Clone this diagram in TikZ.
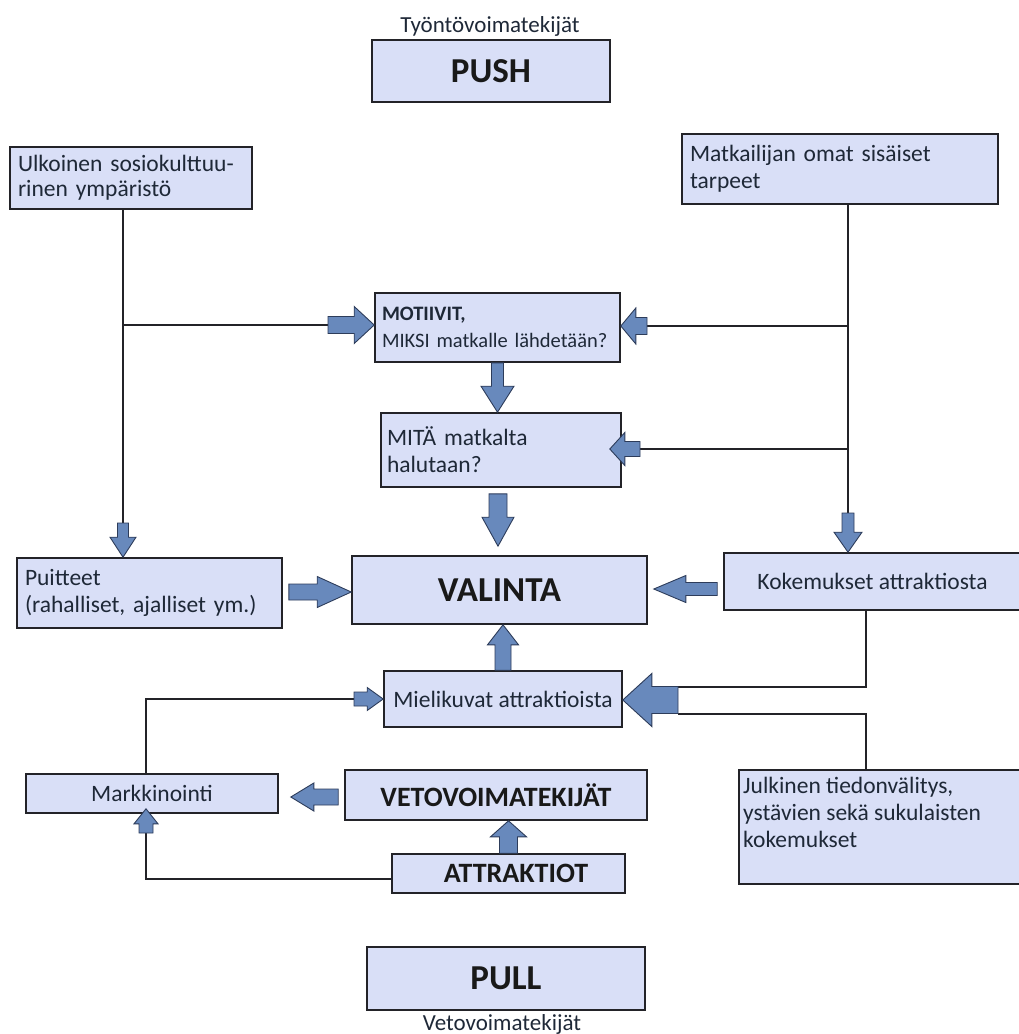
\documentclass[tikz,border=0pt]{standalone}
\usepackage{fontspec}
\setmainfont{Carlito}
\usetikzlibrary{calc}
\definecolor{boxfill}{RGB}{217,223,247}
\definecolor{arrowfill}{RGB}{104,137,188}
\definecolor{arrowline}{RGB}{45,60,90}
\definecolor{txt}{RGB}{30,40,55}
\definecolor{linec}{RGB}{35,35,40}
% block arrow: #1 tail, #2 tip, #3 shaft half width, #4 head half width, #5 head length
\newcommand\blockarr[5]{%
  \coordinate (hb) at ($(#2)!#5!(#1)$);
  \filldraw[blockarrow] ($(#1)!#3!90:(#2)$) -- ($(hb)!#3!-90:(#1)$) -- ($(hb)!#4!-90:(#1)$) -- (#2)
     -- ($(hb)!#4!90:(#1)$) -- ($(hb)!#3!90:(#1)$) -- ($(#1)!#3!-90:(#2)$) -- cycle;}
\begin{document}
\begin{tikzpicture}[x=1pt,y=-1pt,
  box/.style={draw=linec, line width=1.6pt, fill=boxfill, inner xsep=8pt, inner ysep=0pt, text=txt},
  conn/.style={draw=linec, line width=1.6pt},
  blockarrow/.style={fill=arrowfill, draw=arrowline, line width=0.9pt, line join=miter},
  body/.style={font=\fontsize{23.5}{27}\selectfont},
  bigbold/.style={font=\fontsize{35}{40}\selectfont\bfseries, text=black!90},
  midbold/.style={font=\fontsize{28}{32}\selectfont\bfseries, text=black!90},
  lab/.style={font=\fontsize{23}{27}\selectfont, text=txt, inner sep=0pt}]
\useasboundingbox (0,0) rectangle (1019,1034);

% ---- boxes ----
\node[anchor=base, lab] (tlab) at (490,32) {Työntövoimatekijät};
\node[box, bigbold, minimum width=238pt, minimum height=62pt] (push) at (491,71) {PUSH};
\node[box, font=\fontsize{23.5}{25}\selectfont, minimum width=242pt, minimum height=62pt, text width=226pt, align=left] (ulk) at (131,178) {Ulkoinen sosiokulttuu-\\rinen ympäristö};
\node[box, body, minimum width=316pt, minimum height=70pt, text width=300pt, align=left] (matk) at (840,169) {Matkailijan omat sisäiset\\tarpeet};
\node[box, font=\fontsize{20.5}{27}\selectfont, inner xsep=7pt, minimum width=245pt, minimum height=69pt, text width=231pt, align=left] (mot) at (497.5,327.5) {\textbf{MOTIIVIT,}\\MIKSI matkalle lähdetään?};
\node[box, body, inner xsep=6pt, minimum width=240pt, minimum height=74pt, text width=228pt, align=left] (mita) at (501,450) {MITÄ matkalta\\halutaan?};
\node[box, bigbold, minimum width=295pt, minimum height=68pt] (val) at (499.5,590) {VALINTA};
\node[box, body, minimum width=265pt, minimum height=70pt, text width=249pt, align=left] (puit) at (149.5,593) {Puitteet\\(rahalliset, ajalliset ym.)};
\node[box, body, minimum width=297pt, minimum height=57pt] (kok) at (872.5,581.5) {Kokemukset attraktiosta};
\node[box, body, inner xsep=2pt, minimum width=238pt, minimum height=56pt] (mie) at (503,699) {Mielikuvat attraktioista};
\node[box, body, minimum width=252pt, minimum height=39pt] (mark) at (152,793.5) {Markkinointi};
\node[box, midbold, minimum width=302pt, minimum height=50pt] (veto) at (496,795) {VETOVOIMATEKIJÄT};
\node[box, midbold, minimum width=233pt, minimum height=39pt] (attr) at (508.5,873.5) {\hspace*{15pt}ATTRAKTIOT};
\node[box, minimum width=282pt, minimum height=114pt] (julk) at (880,827) {};
\node[anchor=north west, body, text=txt, inner sep=0pt, align=left] (julkt) at (743,777) {Julkinen tiedonvälitys,\\ystävien sekä sukulaisten\\kokemukset};
\node[box, bigbold, minimum width=278pt, minimum height=63pt] (pull) at (506,978.5) {PULL};
\node[anchor=base, lab] (blab) at (502,1030) {Vetovoimatekijät};

% ---- coordinates ----
\coordinate (j1) at (123,325);
\coordinate (j1b) at (123,523);
\coordinate (a1t) at (328,325);
\coordinate (a1h) at (mot.west |- j1);
\coordinate (p1h) at (puit.north -| j1);
\coordinate (j2) at (848,326);
\coordinate (j3) at (848,449);
\coordinate (j2b) at (848,513);
\coordinate (a2t) at (647,326);
\coordinate (a2h) at (mot.east |- j2);
\coordinate (a3t) at (640,449);
\coordinate (a3h) at ($(mita.east |- j3)+(-12,0)$);
\coordinate (k0h) at (kok.north -| j2);
\coordinate (a4h) at (mita.north -| mot.south);
\coordinate (a5t) at ($(mita.south)+(-3,6)$);
\coordinate (a5h) at ($(val.north)+(-1.5,-9)$);
\coordinate (a6t) at ($(puit.east)+(6,-1)$);
\coordinate (a6h) at (val.west |- a6t);
\coordinate (a7t) at ($(kok.west)+(-6,7.5)$);
\coordinate (a7h) at ($(val.east |- a7t)+(6,0)$);
\coordinate (a0h) at (val.south -| mie.north);
\coordinate (bt) at (678,700);
\coordinate (bh) at (mie.east |- bt);
\coordinate (k1) at (866,687);
\coordinate (k1e) at (678,687);
\coordinate (k2) at (866,714);
\coordinate (k2e) at (678,714);
\coordinate (m1) at (146,699);
\coordinate (m1e) at (354,699);
\coordinate (m1h) at (mie.west |- m1);
\coordinate (a8t) at ($(veto.west)+(-6,2)$);
\coordinate (a8h) at ($(mark.east |- a8t)+(12,0)$);
\coordinate (a9h) at (veto.south -| attr.north);
\coordinate (m2) at (146,879);
\coordinate (m2t) at (146,833);
\coordinate (m2h) at ($(mark.south -| m2)+(0,-5)$);

% ---- lines ----
\draw[conn] (ulk.south -| j1) -- (j1b);
\draw[conn] (j1) -- (a1t);
\draw[conn] (matk.south -| j2) -- (j2b);
\draw[conn] (j2) -- (a2t);
\draw[conn] (j3) -- (a3t);
\draw[conn] (kok.south -| k1) -- (k1) -- (k1e);
\draw[conn] (julk.north -| k2) -- (k2) -- (k2e);
\draw[conn] (mark.north -| m1) -- (m1) -- (m1e);
\draw[conn] (attr.west |- m2) -- (m2) -- (m2t);

% ---- block arrows ----
\blockarr{a1t}{a1h}{8.5pt}{18.5pt}{20pt}
\blockarr{j1b}{p1h}{5.5pt}{13pt}{20pt}
\blockarr{a2t}{a2h}{8.5pt}{18pt}{15pt}
\blockarr{a3t}{a3h}{7.5pt}{16.5pt}{15pt}
\blockarr{j2b}{k0h}{6pt}{14pt}{20pt}
\blockarr{mot.south}{a4h}{6pt}{16.5pt}{26pt}
\blockarr{a5t}{a5h}{9pt}{16pt}{29pt}
\blockarr{a6t}{a6h}{8pt}{15.5pt}{34pt}
\blockarr{a7t}{a7h}{6.5pt}{13.5pt}{32pt}
\blockarr{mie.north}{a0h}{8pt}{15.5pt}{20pt}
\blockarr{bt}{bh}{13.5pt}{26.5pt}{29pt}
\blockarr{m1e}{m1h}{7pt}{11.5pt}{16pt}
\blockarr{a8t}{a8h}{8pt}{14pt}{23pt}
\blockarr{attr.north}{a9h}{9pt}{18pt}{16pt}
\blockarr{m2t}{m2h}{7pt}{12pt}{15pt}
\end{tikzpicture}
\end{document}
